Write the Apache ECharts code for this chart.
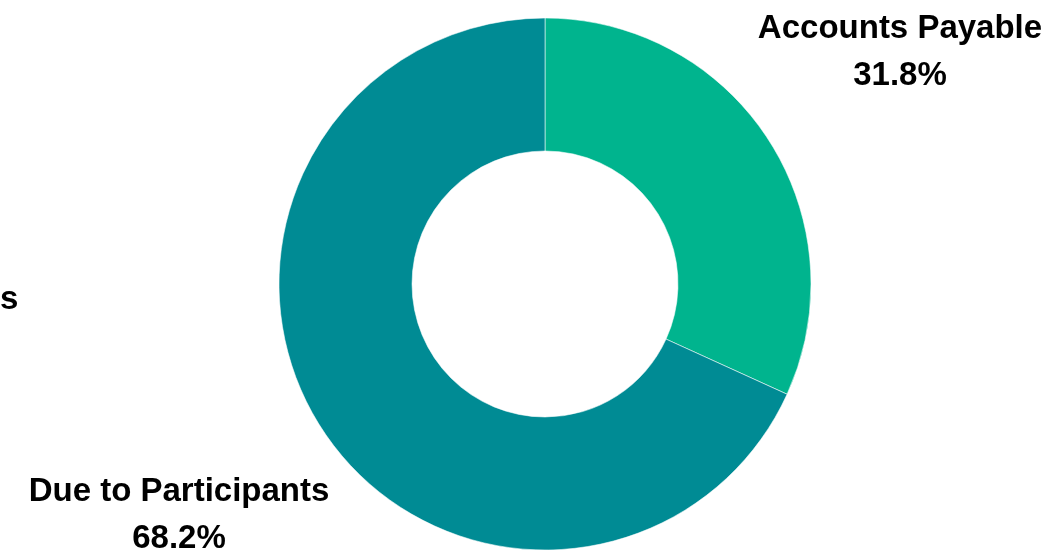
<!DOCTYPE html>
<html>
<head>
<meta charset="utf-8">
<script src="https://cdn.jsdelivr.net/npm/echarts@6/dist/echarts.min.js"></script>
<style>
  html, body { margin: 0; padding: 0; background: #ffffff; }
  #chart { width: 1053px; height: 555px; }
</style>
</head>
<body>
<div id="chart"></div>
<script>
// Liability breakdown (share of total, %)
const categories = ['Accounts Payable', 'Due to Participants'];
const shares = [31.8, 68.2];
const sliceColors = ['#00B48E', '#008B94'];

// Where each slice's caption sits (centre of the text block)
const labelSpots = [
  { x: 900, y: 52 },
  { x: 179, y: 515 }
];

const chart = echarts.init(document.getElementById('chart'), null, { renderer: 'canvas' });

chart.setOption({
  backgroundColor: '#ffffff',
  animation: false,
  series: [{
    type: 'pie',
    center: [545, 284],
    radius: [133, 266],
    startAngle: 90,
    clockwise: true,
    avoidLabelOverlap: false,
    itemStyle: {
      borderColor: 'rgba(255,255,255,0.55)',
      borderWidth: 1
    },
    label: {
      show: true,
      position: 'outside',
      formatter: function (p) { return p.name + '\n' + p.value.toFixed(1) + '%'; },
      fontFamily: '"Liberation Sans", Arial, sans-serif',
      fontWeight: 'bold',
      fontSize: 33,
      lineHeight: 47,
      color: '#000000',
      align: 'center'
    },
    labelLine: { show: false },
    labelLayout: function (params) {
      const s = labelSpots[params.dataIndex];
      return { x: s.x, y: s.y, align: 'center', verticalAlign: 'middle' };
    },
    data: categories.map(function (name, i) {
      return { name: name, value: shares[i], itemStyle: { color: sliceColors[i] } };
    })
  }],
  graphic: [{
    type: 'text',
    left: 0,
    top: 283,
    style: {
      text: 's',
      font: 'bold 33px "Liberation Sans", Arial, sans-serif',
      fill: '#000000'
    }
  }]
});
</script>
</body>
</html>
